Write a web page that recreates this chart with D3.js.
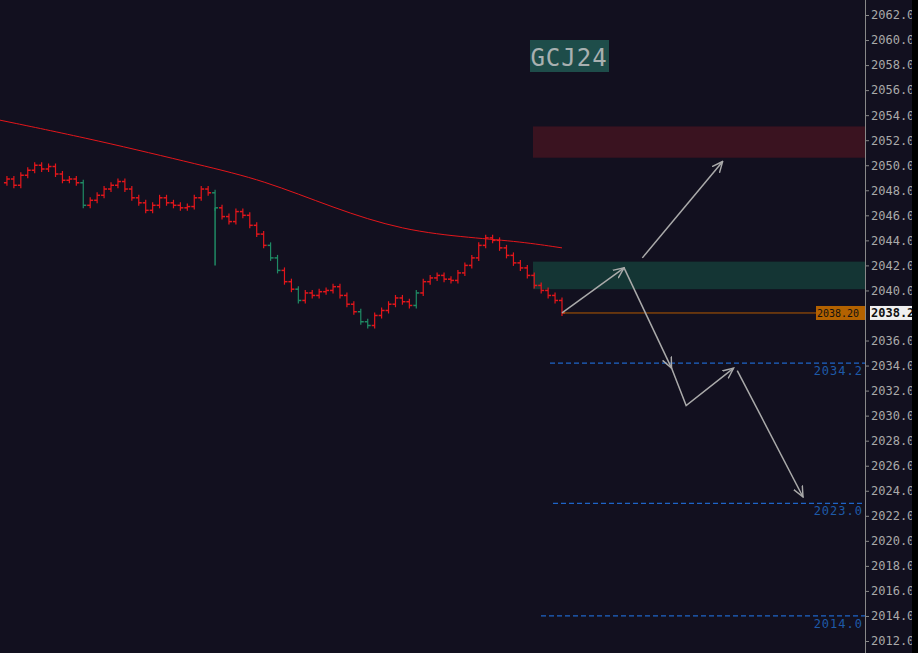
<!DOCTYPE html>
<html><head><meta charset="utf-8">
<script src="https://cdn.jsdelivr.net/npm/d3@7"></script>
<style>body{margin:0;background:#12101f;overflow:hidden}</style>
</head><body>
<svg id="chart" width="918" height="653"></svg>
<script>
// closes, one per bar
var closes = [2048.6,2048.9,2048.4,2049.2,2049.6,2050.0,2049.7,2049.9,2049.3,2048.8,2048.9,2048.6,2046.8,2047.2,2047.6,2048.1,2048.4,2048.7,2048.1,2047.4,2047.0,2046.4,2046.8,2047.4,2047.0,2046.8,2046.6,2046.7,2047.4,2048.1,2047.8,2046.6,2045.9,2045.5,2046.3,2046.0,2045.2,2044.5,2043.6,2042.6,2041.6,2040.7,2040.1,2039.2,2039.8,2039.6,2039.9,2040.0,2040.3,2039.6,2038.9,2038.3,2037.5,2037.2,2038.0,2038.4,2038.9,2039.4,2039.1,2038.8,2039.8,2040.7,2041.0,2041.2,2040.9,2040.8,2041.4,2042.0,2042.6,2043.6,2044.2,2044.0,2043.4,2042.8,2042.2,2041.8,2041.2,2040.4,2040.0,2039.6,2039.2,2038.2]
var greenBars = [12,31,39,40,43,52,53,60]
var maPrice = [2053.6,2052.0,2050.0,2048.8,2046.6,2044.8,2044.2,2043.9,2043.4]
var maBar = [0,14,29,38,48,58,68,75,81]
var yTicks = d3.range(2012,2063,2)
var redZone = [2050.6,2053.1], tealZone = [2040.1,2042.3]
var levels = [{p:2034.2,x0:550,label:"2034.2"},{p:2023.0,x0:553,label:"2023.0"},{p:2014.0,x0:541,label:"2014.0"}]
var lastPrice = 2038.2
var pathUp = [[81,2038.2],[89.5,2041.8]]
var pathUp2 = [[92,2042.6],[103,2050.3]]
var pathDown = [[89.5,2041.8],[96,2033.8]]
var pathZig = [[96,2033.8],[98,2030.8],[104.5,2033.8]]
var pathDown2 = [[105,2033.6],[114,2023.5]]

var svg = d3.select("#chart")
var W = 918, H = 653, axisX = 865
var x = d3.scaleLinear().domain([0, closes.length-1]).range([0, 562])
var y = d3.scaleLinear().domain([2012, 2062]).range([641, 15])
var mono = "DejaVu Sans Mono"

svg.append("rect").attr("width",W).attr("height",H).attr("fill","#12101f")

svg.append("rect").attr("x",533).attr("width",axisX-533)
  .attr("y",y(redZone[1])).attr("height",y(redZone[0])-y(redZone[1])).attr("fill","#3a1320")
svg.append("rect").attr("x",533).attr("width",axisX-533)
  .attr("y",y(tealZone[1])).attr("height",y(tealZone[0])-y(tealZone[1])).attr("fill","#143534")

// candles
closes.forEach(function(c,i){
  if(i==0) return
  var o = closes[i-1]
  var hi = Math.max(o,c), lo = Math.min(o,c)
  var col = greenBars.indexOf(i) >= 0 ? "#1f8a64" : "#e3161b"
  svg.append("line").attr("x1",x(i)).attr("x2",x(i)).attr("y1",y(hi)-3).attr("y2",y(lo)+3)
    .attr("stroke",col).attr("stroke-width",1.2)
  svg.append("line").attr("x1",x(i)-3).attr("x2",x(i)).attr("y1",y(o)).attr("y2",y(o)).attr("stroke",col).attr("stroke-width",1.5)
  svg.append("line").attr("x1",x(i)).attr("x2",x(i)+3).attr("y1",y(c)).attr("y2",y(c)).attr("stroke",col).attr("stroke-width",1.5)
})
svg.append("line").attr("x1",x(31)).attr("x2",x(31)).attr("y1",y(2046.6)).attr("y2",y(2042)).attr("stroke","#1f8a64").attr("stroke-width",1.5)

svg.append("path").datum(maPrice.map((p,i)=>[maBar[i],p]))
  .attr("d", d3.line().x(d=>x(d[0])).y(d=>y(d[1])).curve(d3.curveBasis))
  .attr("fill","none").attr("stroke","#e3161b").attr("stroke-width",1)

// levels
levels.forEach(function(l){
  svg.append("line").attr("x1",l.x0).attr("x2",axisX).attr("y1",y(l.p)).attr("y2",y(l.p))
    .attr("stroke","#1e64c8").attr("stroke-width",1.3).attr("stroke-dasharray","5,3")
  svg.append("text").attr("x",axisX-2).attr("y",y(l.p)+12).attr("text-anchor","end")
    .attr("fill","#1e5aa8").attr("font-family",mono).attr("font-size",12).attr("letter-spacing",1).text(l.label)
})
svg.append("line").attr("x1",562).attr("x2",816).attr("y1",y(lastPrice)).attr("y2",y(lastPrice)).attr("stroke","#b35a00")
svg.append("rect").attr("x",816).attr("y",y(lastPrice)-7).attr("width",49).attr("height",14).attr("fill","#b36200")
svg.append("text").attr("x",817).attr("y",y(lastPrice)+4).attr("fill","#111").attr("font-family",mono).attr("font-size",10).text("2038.20")

// arrows
var defs = svg.append("defs")
defs.append("marker").attr("id","ah").attr("viewBox","0 0 10 10").attr("refX",9).attr("refY",5)
  .attr("markerWidth",8).attr("markerHeight",8).attr("orient","auto")
  .append("path").attr("d","M0,1 L9,5 L0,9").attr("fill","none").attr("stroke","#aaa").attr("stroke-width",1.2)
var xa = d3.scaleLinear().domain([81,114]).range([562,803])
var line = d3.line().x(d=>xa(d[0])).y(d=>y(d[1]))
;[pathUp,pathUp2,pathDown,pathZig,pathDown2].forEach(function(p){
  svg.append("path").attr("d",line(p)).attr("fill","none").attr("stroke","#aaa").attr("stroke-width",1.5).attr("marker-end","url(#ah)")
})

// axis
svg.append("rect").attr("x",axisX).attr("width",W-axisX).attr("height",H).attr("fill","#12101f")
svg.append("line").attr("x1",axisX+0.5).attr("x2",axisX+0.5).attr("y1",0).attr("y2",H).attr("stroke","#888")
var ax = svg.append("g").attr("transform","translate("+axisX+",0)")
  .call(d3.axisRight(y).tickValues(yTicks.filter(t=>t!=2038)).tickFormat(d3.format(".1f")).tickSize(4))
ax.select(".domain").remove()
ax.selectAll("line").attr("stroke","#888")
ax.selectAll("text").attr("fill","#aaa").attr("font-family",mono).attr("font-size",12).attr("x",6)
svg.append("rect").attr("x",870).attr("y",y(lastPrice)-7).attr("width",48).attr("height",14).attr("fill","#f0f0f0")
svg.append("text").attr("x",871).attr("y",y(lastPrice)+4).attr("fill","#111").attr("font-family",mono).attr("font-size",12).attr("font-weight","bold").text("2038.2")
svg.append("rect").attr("x",912).attr("width",6).attr("height",H).attr("fill","#000")

// title
svg.append("rect").attr("x",530).attr("y",40).attr("width",79).attr("height",32).attr("fill","#1e4d4a")
svg.append("text").attr("x",569).attr("y",66).attr("text-anchor","middle").attr("fill","#a8b0b0")
  .attr("font-family",mono).attr("font-size",24).attr("letter-spacing",1).text("GCJ24")
</script>
</body></html>
